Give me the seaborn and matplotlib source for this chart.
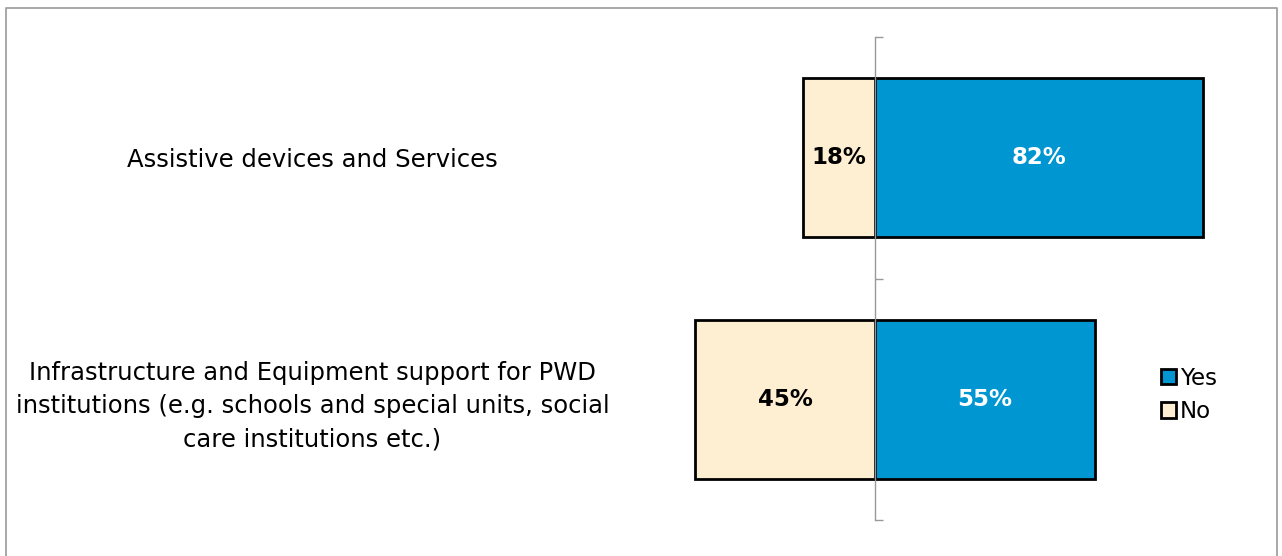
import numpy as np
import pandas as pd
import seaborn as sns
import matplotlib.pyplot as plt
from matplotlib.patches import Rectangle

sns.set_style("white")
plt.rcParams['font.family'] = ['DejaVu Sans']
plt.rcParams['text.color'] = 'black'
plt.rcParams['ytick.color'] = 'black'

# data
categories = [
    "Assistive devices and Services",
    "Infrastructure and Equipment support for PWD\n"
    "institutions (e.g. schools and special units, social\n"
    "care institutions etc.)",
]
yes_values = [82, 55]
no_values = [18, 45]
responses = ["Yes", "No"]
colors = {"Yes": "#0096D1", "No": "#FFEFD2"}

df = pd.DataFrame({
    "Category": categories * 2,
    "Response": ["Yes"] * len(categories) + ["No"] * len(categories),
    # No goes to the left of the axis
    "Value": yes_values + [-v for v in no_values],
})

W, H = 1282, 556
fig = plt.figure(figsize=(W / 100, H / 100), dpi=100)
# axes placed so that 0 sits at x=875 px, 4 px per percent
ax = fig.add_axes([675 / W, 36 / H, 600 / W, 483 / H])

sns.barplot(
    data=df,
    x="Value",
    y="Category",
    hue="Response",
    hue_order=responses,
    palette=colors,
    saturation=1,
    orient="h",
    dodge=False,
    width=0.66,
    edgecolor="black",
    linewidth=2.0,
    legend=False,
    ax=ax,
)

ax.set_xlim(-50, 100)
ax.set_ylim(1.5, -0.5)
ax.set_xlabel("")
ax.set_ylabel("")
ax.set_xticks([])

# vertical axis sits on zero, ticks between categories
for side in ["top", "right", "bottom"]:
    ax.spines[side].set_visible(False)
ax.spines["left"].set_position(("data", 0))
ax.spines["left"].set_color("#999999")
ax.spines["left"].set_linewidth(1.0)
ax.spines["left"].set_zorder(5)
ax.set_yticks([0, 1], labels=categories, ha="center",
              multialignment="center", linespacing=1.5)
ax.set_yticks([-0.5, 0.5, 1.5], minor=True)
ax.tick_params(axis="y", which="minor", direction="in", length=6,
               width=1.0, color="#999999", left=True)
ax.tick_params(axis="y", which="major", length=0, pad=405, labelsize=17.5)

# percent labels inside the bars
for container, resp in zip(ax.containers, responses):
    vals = df.loc[df["Response"] == resp, "Value"].abs()
    ax.bar_label(
        container,
        labels=[f"{v:.0f}%" for v in vals],
        label_type="center",
        color="white" if resp == "Yes" else "black",
        fontsize=16.5,
        fontweight="bold",
    )

handles = [Rectangle((0, 0), 1, 1, facecolor=colors[r], edgecolor="black",
                     linewidth=2.0) for r in responses]
fig.legend(
    handles, responses,
    loc="center left",
    bbox_to_anchor=(1140 / W, 1 - 395 / H),
    frameon=False,
    handlelength=0.65,
    handleheight=0.65,
    handletextpad=0.2,
    labelspacing=0.45,
    fontsize=16.5,
)

# outer frame of the chart (no bottom edge visible)
fig.add_artist(plt.Line2D([6 / W, 6 / W, 1277 / W, 1277 / W],
                          [0, 1 - 8 / H, 1 - 8 / H, 0],
                          transform=fig.transFigure, color="#9a9a9a",
                          linewidth=1.2))

fig.savefig("out.png", dpi=100)
